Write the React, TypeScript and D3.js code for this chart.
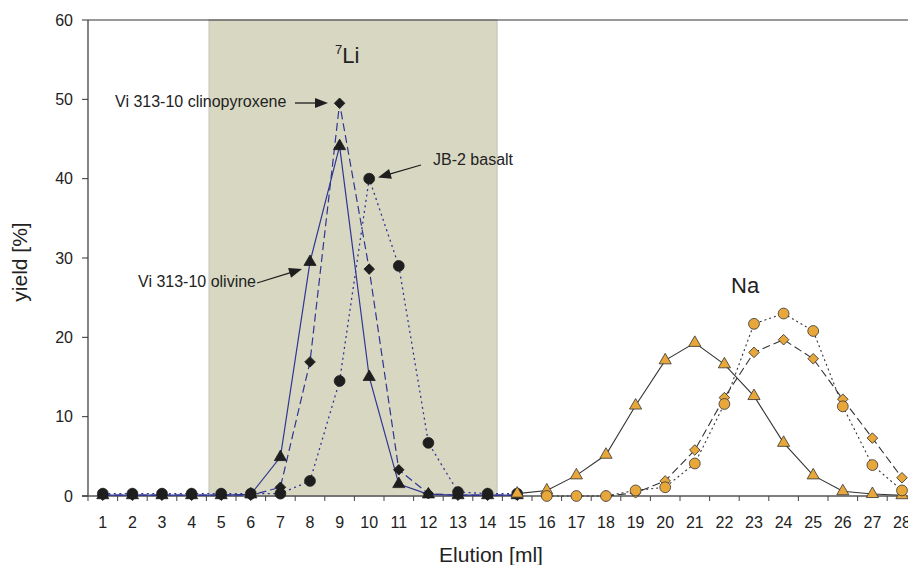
import React from "react";
import * as d3 from "d3";

// Elution fractions (ml)
const elutionTicks = d3.range(1, 29);
const yTicks = [0, 10, 20, 30, 40, 50, 60];

// 7Li yields [%]
const liFractions = d3.range(1, 16);
const liOlivine = [0.1, 0.1, 0.1, 0.1, 0.1, 0.2, 4.9, 29.5, 44.1, 15.0, 1.5, 0.2, 0.1, 0.1, 0.1];
const liCpx = [0.1, 0.1, 0.1, 0.1, 0.1, 0.1, 1.1, 16.9, 49.5, 28.6, 3.3, 0.3, 0.1, 0.1, 0.1];
const liBasalt = [0.3, 0.3, 0.3, 0.3, 0.3, 0.3, 0.3, 1.9, 14.5, 40.0, 29.0, 6.7, 0.5, 0.3, 0.3];

// Na yields [%]
const naTriFractions = d3.range(15, 29);
const naTri = [0.3, 0.7, 2.6, 5.2, 11.4, 17.1, 19.3, 16.6, 12.6, 6.7, 2.6, 0.6, 0.25, 0.1];
const naDiaFractions = d3.range(18, 29);
const naDia = [0.0, 0.4, 1.9, 5.8, 12.4, 18.1, 19.7, 17.3, 12.2, 7.3, 2.3];
const naCirFractions = d3.range(16, 29);
const naCir = [0.0, 0.0, 0.0, 0.7, 1.1, 4.1, 11.6, 21.7, 23.0, 20.8, 11.3, 3.9, 0.7];

// Li collection window (ml)
const liWindow = [4.59, 14.32];

const W = 908;
const H = 565;
const left = 88;
const top = 20;
const bottom = 496;
const step = 29.6;

const x = d3.scaleLinear().domain([0.5, 28.5]).range([left, left + 28 * step]);
const y = d3.scaleLinear().domain([0, 60]).range([bottom, top]);

const FONT = "Liberation Sans, Arial, sans-serif";
const BLUE = "#2f3594";
const ORANGE = "#e8a73a";
const DARK = "#1e1e1e";

type Pt = { c: number; v: number };
const zip = (cs: number[], vs: number[]): Pt[] => cs.map((c, i) => ({ c, v: vs[i] }));

const line = d3
  .line<Pt>()
  .x((d) => x(d.c))
  .y((d) => y(d.v));

const tri = d3.symbol().type(d3.symbolTriangle).size(64)()!;
const sq = d3.symbol().type(d3.symbolSquare).size(56)()!;
const cir = d3.symbol().type(d3.symbolCircle).size(92)()!;

function Markers({ pts, path, fill, stroke, rotate = 0 }: { pts: Pt[]; path: string; fill: string; stroke: string; rotate?: number }) {
  return (
    <g>
      {pts.map((d, i) => (
        <path
          key={i}
          d={path}
          transform={`translate(${x(d.c)},${y(d.v)}) rotate(${rotate})`}
          fill={fill}
          stroke={stroke}
          strokeWidth={0.8}
        />
      ))}
    </g>
  );
}

function Arrow({ x1, y1, x2, y2 }: { x1: number; y1: number; x2: number; y2: number }) {
  const a = Math.atan2(y2 - y1, x2 - x1);
  const len = 13;
  const hw = 5;
  const bx = x2 - len * Math.cos(a);
  const by = y2 - len * Math.sin(a);
  const px = -Math.sin(a) * hw;
  const py = Math.cos(a) * hw;
  return (
    <g>
      <line x1={x1} y1={y1} x2={bx + Math.cos(a)} y2={by + Math.sin(a)} stroke={DARK} strokeWidth={1.3} />
      <path d={`M${x2},${y2}L${bx + px},${by + py}L${bx - px},${by - py}Z`} fill={DARK} />
    </g>
  );
}

export default function App() {
  const lo = zip(liFractions, liOlivine);
  const lc = zip(liFractions, liCpx);
  const lb = zip(liFractions, liBasalt);
  const nt = zip(naTriFractions, naTri);
  const nd = zip(naDiaFractions, naDia);
  const nc = zip(naCirFractions, naCir);
  const right = x(28.5);

  return (
    <svg
      width={W}
      height={H}
      style={{ position: "absolute", left: 0, top: 0, background: "#fff" }}
      fontFamily={FONT}
    >
      {/* Li collection window */}
      <rect
        x={x(liWindow[0])}
        y={top}
        width={x(liWindow[1]) - x(liWindow[0])}
        height={bottom - top}
        fill="#d8d8c2"
        stroke="#c6c6c0"
        strokeWidth={1.2}
      />

      {/* frame */}
      <line x1={left} y1={top} x2={right} y2={top} stroke="#333" strokeWidth={1.2} />
      <line x1={left} y1={top} x2={left} y2={bottom} stroke="#333" strokeWidth={1.2} />
      <line x1={left - 6} y1={bottom} x2={right} y2={bottom} stroke="#555" strokeWidth={1.6} />

      {/* y axis */}
      {yTicks.map((t) => (
        <g key={t}>
          <line x1={left - 6} x2={left} y1={y(t)} y2={y(t)} stroke="#333" strokeWidth={1} />
          <text x={73} y={y(t)} dy="0.36em" textAnchor="end" fontSize={16} fill="#222">
            {t}
          </text>
        </g>
      ))}
      <text
        transform={`translate(27,262) rotate(-90)`}
        textAnchor="middle"
        fontSize={21}
        fill="#222"
      >
        yield [%]
      </text>

      {/* x axis */}
      {d3.range(0.5, 29, 1).map((b) => (
        <line key={b} x1={x(b)} x2={x(b)} y1={bottom} y2={bottom + 5} stroke="#444" strokeWidth={1} />
      ))}
      {elutionTicks.map((t) => (
        <text key={t} x={x(t)} y={528} textAnchor="middle" fontSize={16} fill="#222">
          {t}
        </text>
      ))}
      <text x={491} y={562} textAnchor="middle" fontSize={21} fill="#222">
        Elution [ml]
      </text>

      {/* Li curves */}
      <path d={line(lo)!} fill="none" stroke={BLUE} strokeWidth={1.2} />
      <path d={line(lc)!} fill="none" stroke={BLUE} strokeWidth={1.2} strokeDasharray="8,4" />
      <path d={line(lb)!} fill="none" stroke={BLUE} strokeWidth={1.3} strokeDasharray="2,3.5" />
      <Markers pts={lo} path={tri} fill={DARK} stroke={DARK} />
      <Markers pts={lc} path={sq} fill={DARK} stroke={DARK} rotate={45} />
      <Markers pts={lb} path={cir} fill={DARK} stroke={DARK} />

      {/* Na curves */}
      <path d={line(nt)!} fill="none" stroke="#333" strokeWidth={1.1} />
      <path d={line(nd)!} fill="none" stroke="#333" strokeWidth={1.1} strokeDasharray="8,4" />
      <path d={line(nc)!} fill="none" stroke="#333" strokeWidth={1.1} strokeDasharray="2,3" />
      <Markers pts={nt} path={tri} fill={ORANGE} stroke="#333" />
      <Markers pts={nd} path={sq} fill={ORANGE} stroke="#333" rotate={45} />
      <Markers pts={nc} path={cir} fill={ORANGE} stroke="#333" />

      {/* labels */}
      <text x={335} y={63} fontSize={22} fill="#222">
        <tspan fontSize={13} dy={-9}>7</tspan>
        <tspan dy={9}>Li</tspan>
      </text>
      <text x={731} y={293} fontSize={22} fill="#222">
        Na
      </text>

      <text x={115} y={107} fontSize={16} fill="#222">
        Vi 313-10 clinopyroxene
      </text>
      <Arrow x1={295} y1={103} x2={328} y2={103} />

      <text x={433} y={165} fontSize={16} fill="#222">
        JB-2 basalt
      </text>
      <Arrow x1={421} y1={165} x2={378} y2={177.5} />

      <text x={138} y={287} fontSize={16} fill="#222">
        Vi 313-10 olivine
      </text>
      <Arrow x1={257} y1={283} x2={302} y2={269} />
    </svg>
  );
}
